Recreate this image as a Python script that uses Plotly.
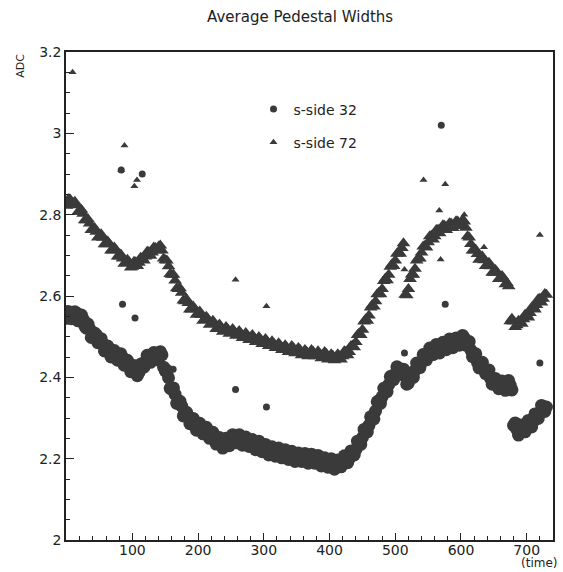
import plotly.graph_objects as go

# ---- data ----
time = [0, 5, 10, 15, 20, 25, 30, 35, 40, 45, 50, 55, 60, 65, 70, 75, 80, 85, 90, 95,
        100, 105, 110, 115, 120, 125, 130, 135, 140, 145, 150, 155, 160, 165, 170, 175, 180, 185, 190, 195,
        200, 205, 210, 215, 220, 225, 230, 235, 240, 245, 250, 255, 260, 265, 270, 275, 280, 285, 290, 295,
        300, 305, 310, 315, 320, 325, 330, 335, 340, 345, 350, 355, 360, 365, 370, 375, 380, 385, 390, 395,
        400, 405, 410, 415, 420, 425, 430, 435, 440, 445, 450, 455, 460, 465, 470, 475, 480, 485, 490, 495,
        500, 505, 510, 515, 520, 525, 530, 535, 540, 545, 550, 555, 560, 565, 570, 575, 580, 585, 590, 595,
        600, 605, 610, 615, 620, 625, 630, 635, 640, 645, 650, 655, 660, 665, 670, 675, 680, 685, 690, 695,
        700, 705, 710, 715, 720, 725, 730]

side32 = [2.545, 2.556, 2.552, 2.558, 2.545, 2.543, 2.521, 2.519, 2.500, 2.505, 2.486, 2.483, 2.470, 2.468, 2.455, 2.459, 2.446, 2.449, 2.436, 2.432,
          2.418, 2.420, 2.412, 2.434, 2.436, 2.450, 2.446, 2.459, 2.451, 2.455, 2.416, 2.399, 2.371, 2.358, 2.336, 2.329, 2.306, 2.303, 2.291, 2.289,
          2.276, 2.279, 2.266, 2.268, 2.256, 2.254, 2.241, 2.244, 2.232, 2.244, 2.241, 2.254, 2.246, 2.250, 2.240, 2.246, 2.236, 2.239, 2.230, 2.236,
          2.221, 2.228, 2.215, 2.224, 2.211, 2.219, 2.210, 2.214, 2.205, 2.209, 2.200, 2.208, 2.201, 2.204, 2.198, 2.204, 2.196, 2.199, 2.190, 2.194,
          2.186, 2.193, 2.181, 2.192, 2.190, 2.203, 2.200, 2.218, 2.222, 2.243, 2.252, 2.273, 2.282, 2.303, 2.317, 2.343, 2.352, 2.373, 2.382, 2.403,
          2.408, 2.423, 2.417, 2.402, 2.386, 2.408, 2.417, 2.433, 2.437, 2.453, 2.457, 2.468, 2.466, 2.474, 2.471, 2.482, 2.477, 2.488, 2.482, 2.493,
          2.487, 2.497, 2.486, 2.467, 2.458, 2.437, 2.433, 2.421, 2.418, 2.397, 2.393, 2.382, 2.384, 2.376, 2.383, 2.380, 2.282, 2.272, 2.268, 2.278,
          2.276, 2.289, 2.291, 2.308, 2.312, 2.328, 2.327]

side72 = [2.822, 2.838, 2.828, 2.823, 2.807, 2.802, 2.786, 2.778, 2.762, 2.758, 2.747, 2.743, 2.727, 2.728, 2.712, 2.713, 2.697, 2.692, 2.682, 2.683,
          2.672, 2.683, 2.682, 2.693, 2.697, 2.708, 2.707, 2.718, 2.722, 2.712, 2.688, 2.673, 2.652, 2.638, 2.617, 2.608, 2.587, 2.583, 2.567, 2.568,
          2.557, 2.553, 2.542, 2.543, 2.532, 2.533, 2.522, 2.523, 2.517, 2.518, 2.512, 2.513, 2.507, 2.508, 2.502, 2.503, 2.497, 2.498, 2.492, 2.493,
          2.487, 2.488, 2.482, 2.483, 2.477, 2.478, 2.472, 2.473, 2.467, 2.472, 2.462, 2.468, 2.457, 2.463, 2.457, 2.463, 2.457, 2.458, 2.452, 2.458,
          2.447, 2.453, 2.447, 2.452, 2.452, 2.463, 2.462, 2.478, 2.487, 2.508, 2.517, 2.543, 2.552, 2.578, 2.587, 2.608, 2.617, 2.643, 2.652, 2.678,
          2.687, 2.708, 2.718, 2.603, 2.617, 2.653, 2.667, 2.693, 2.707, 2.723, 2.732, 2.748, 2.747, 2.763, 2.762, 2.773, 2.767, 2.778, 2.772, 2.783,
          2.777, 2.783, 2.747, 2.728, 2.712, 2.703, 2.692, 2.688, 2.677, 2.673, 2.657, 2.658, 2.642, 2.643, 2.632, 2.538, 2.537, 2.528, 2.537, 2.543,
          2.553, 2.558, 2.573, 2.578, 2.593, 2.593, 2.603]

# second set of readings, between the ones above
time_b = [2.5, 7.5, 12.5, 17.5, 22.5, 27.5, 32.5, 37.5, 42.5, 47.5, 52.5, 57.5, 62.5, 67.5, 72.5, 77.5, 82.5, 87.5, 92.5, 97.5,
          102.5, 107.5, 112.5, 117.5, 122.5, 127.5, 132.5, 137.5, 142.5, 147.5, 152.5, 157.5, 162.5, 167.5, 172.5, 177.5, 182.5, 187.5, 192.5, 197.5,
          202.5, 207.5, 212.5, 217.5, 222.5, 227.5, 232.5, 237.5, 242.5, 247.5, 252.5, 257.5, 262.5, 267.5, 272.5, 277.5, 282.5, 287.5, 292.5, 297.5,
          302.5, 307.5, 312.5, 317.5, 322.5, 327.5, 332.5, 337.5, 342.5, 347.5, 352.5, 357.5, 362.5, 367.5, 372.5, 377.5, 382.5, 387.5, 392.5, 397.5,
          402.5, 407.5, 412.5, 417.5, 422.5, 427.5, 432.5, 437.5, 442.5, 447.5, 452.5, 457.5, 462.5, 467.5, 472.5, 477.5, 482.5, 487.5, 492.5, 497.5,
          502.5, 507.5, 512.5, 517.5, 522.5, 527.5, 532.5, 537.5, 542.5, 547.5, 552.5, 557.5, 562.5, 567.5, 572.5, 577.5, 582.5, 587.5, 592.5, 597.5,
          602.5, 607.5, 612.5, 617.5, 622.5, 627.5, 632.5, 637.5, 642.5, 647.5, 652.5, 657.5, 662.5, 667.5, 672.5, 677.5, 682.5, 687.5, 692.5, 697.5,
          702.5, 707.5, 712.5, 717.5, 722.5, 727.5]

side32_b = [2.562, 2.544, 2.561, 2.539, 2.553, 2.526, 2.531, 2.498, 2.509, 2.485, 2.495, 2.465, 2.477, 2.450, 2.466, 2.442, 2.458, 2.430, 2.442, 2.414,
            2.429, 2.404, 2.432, 2.425, 2.454, 2.437, 2.461, 2.443, 2.463, 2.425, 2.417, 2.373, 2.374, 2.336, 2.341, 2.305, 2.314, 2.286, 2.299, 2.270,
            2.287, 2.261, 2.277, 2.250, 2.265, 2.236, 2.252, 2.226, 2.250, 2.232, 2.259, 2.239, 2.259, 2.233, 2.253, 2.230, 2.247, 2.222, 2.243, 2.217,
            2.235, 2.209, 2.229, 2.206, 2.226, 2.202, 2.222, 2.198, 2.218, 2.193, 2.214, 2.193, 2.213, 2.189, 2.211, 2.189, 2.208, 2.182, 2.202, 2.179,
            2.200, 2.174, 2.197, 2.180, 2.207, 2.190, 2.219, 2.209, 2.243, 2.235, 2.272, 2.266, 2.303, 2.298, 2.340, 2.336, 2.373, 2.365, 2.402, 2.394,
            2.426, 2.408, 2.420, 2.383, 2.408, 2.400, 2.435, 2.424, 2.456, 2.443, 2.472, 2.456, 2.481, 2.460, 2.486, 2.468, 2.494, 2.473, 2.497, 2.479,
            2.503, 2.479, 2.488, 2.451, 2.458, 2.423, 2.437, 2.409, 2.418, 2.383, 2.397, 2.372, 2.391, 2.368, 2.392, 2.369, 2.288, 2.258, 2.283, 2.266,
            2.294, 2.278, 2.310, 2.299, 2.331, 2.316]

side72_b = [2.838, 2.826, 2.832, 2.807, 2.812, 2.786, 2.789, 2.762, 2.767, 2.744, 2.752, 2.727, 2.734, 2.712, 2.719, 2.697, 2.702, 2.679, 2.689, 2.670,
            2.684, 2.674, 2.694, 2.687, 2.709, 2.699, 2.719, 2.712, 2.724, 2.692, 2.687, 2.654, 2.652, 2.619, 2.619, 2.589, 2.592, 2.567, 2.574, 2.554,
            2.562, 2.539, 2.549, 2.529, 2.539, 2.519, 2.530, 2.512, 2.524, 2.507, 2.519, 2.502, 2.514, 2.497, 2.509, 2.492, 2.504, 2.487, 2.499, 2.482,
            2.494, 2.477, 2.489, 2.472, 2.484, 2.467, 2.479, 2.462, 2.477, 2.459, 2.472, 2.454, 2.467, 2.452, 2.467, 2.452, 2.464, 2.447, 2.462, 2.444,
            2.457, 2.442, 2.457, 2.444, 2.464, 2.454, 2.477, 2.474, 2.504, 2.504, 2.537, 2.539, 2.572, 2.574, 2.604, 2.604, 2.637, 2.639, 2.672, 2.674,
            2.704, 2.704, 2.730, 2.602, 2.642, 2.652, 2.687, 2.692, 2.722, 2.719, 2.747, 2.739, 2.762, 2.754, 2.774, 2.762, 2.779, 2.767, 2.784, 2.772,
            2.787, 2.768, 2.744, 2.712, 2.714, 2.689, 2.697, 2.674, 2.682, 2.657, 2.664, 2.642, 2.649, 2.629, 2.624, 2.544, 2.524, 2.539, 2.532, 2.554,
            2.547, 2.572, 2.567, 2.592, 2.584, 2.605]

# isolated points away from the bands
out32_t = [83, 115, 85, 104, 162, 257, 304, 514, 570, 576, 720]
out32_v = [2.91, 2.90, 2.58, 2.546, 2.42, 2.37, 2.327, 2.46, 3.02, 2.58, 2.435]
out72_t = [9, 88, 83, 107, 103, 257, 304, 514, 543, 567, 569, 576, 605, 635, 720]
out72_v = [3.15, 2.97, 2.91, 2.885, 2.87, 2.64, 2.575, 2.665, 2.885, 2.81, 2.69, 2.875, 2.80, 2.72, 2.75]

y_ticks = [2, 2.2, 2.4, 2.6, 2.8, 3, 3.2]
y_labels = ["2", "2.2", "2.4", "2.6", "2.8", "3", "3.2"]
x_ticks = [100, 200, 300, 400, 500, 600, 700]

ink = "#3a3a3a"
font = "DejaVu Sans"

fig = go.Figure()
# dense bands
fig.add_trace(go.Scatter(
    x=time + time_b, y=side32 + side32_b, mode="markers", showlegend=False, legendgroup="a",
    marker=dict(symbol="circle", size=13, color=ink, line=dict(width=0))))
fig.add_trace(go.Scatter(
    x=time + time_b, y=side72 + side72_b, mode="markers", showlegend=False, legendgroup="b",
    marker=dict(symbol="triangle-up", size=12, color=ink, line=dict(width=0))))
# isolated points (also carry the legend entries)
fig.add_trace(go.Scatter(
    x=out32_t, y=out32_v, mode="markers", name="s-side 32", legendgroup="a",
    marker=dict(symbol="circle", size=7, color=ink, line=dict(width=0))))
fig.add_trace(go.Scatter(
    x=out72_t, y=out72_v, mode="markers", name="s-side 72", legendgroup="b",
    marker=dict(symbol="triangle-up", size=7, color=ink, line=dict(width=0))))

fig.update_layout(
    width=563, height=572,
    margin=dict(l=66, r=8, t=52, b=32),
    paper_bgcolor="white", plot_bgcolor="white",
    font=dict(family=font, color="#222", size=13),
    title=dict(text="Average Pedestal Widths", x=0.533, xanchor="center",
               y=0.97, yanchor="middle", font=dict(family=font, size=15, color="#222")),
    showlegend=True,
    legend=dict(x=0.385, y=0.915, xanchor="left", yanchor="top",
                bgcolor="rgba(0,0,0,0)", tracegroupgap=12,
                font=dict(family=font, size=14, color="#222"), itemsizing="trace"),
    annotations=[
        dict(text="ADC", xref="paper", yref="paper", x=-0.095, y=1.0, xanchor="center",
             yanchor="top", textangle=-90, showarrow=False, font=dict(family=font, size=11, color="#222")),
        dict(text="(time)", xref="paper", yref="paper", x=1.012, y=-0.0655, xanchor="right",
             yanchor="bottom", showarrow=False, font=dict(family=font, size=12, color="#222")),
    ],
)
fig.update_xaxes(range=[-1, 740], tickvals=x_ticks, ticks="inside", ticklen=7, tickwidth=1,
                 tickcolor="#222", showline=True, linecolor="#222", linewidth=1.5, mirror=True,
                 showgrid=False, zeroline=False, ticklabelstandoff=-4,
                 minor=dict(dtick=20, tick0=0, ticks="inside", ticklen=4, tickcolor="#222", showgrid=False),
                 tickfont=dict(family=font, size=14, color="#222"))
fig.update_yaxes(range=[2, 3.2], tickvals=y_ticks, ticktext=y_labels, ticks="inside", ticklen=8, tickwidth=1,
                 tickcolor="#222", showline=True, linecolor="#222", linewidth=1.5, mirror=True,
                 showgrid=False, zeroline=False,
                 minor=dict(dtick=0.05, tick0=2, ticks="inside", ticklen=4, tickcolor="#222", showgrid=False),
                 tickfont=dict(family=font, size=14, color="#222"))

fig.write_html("out.html")
